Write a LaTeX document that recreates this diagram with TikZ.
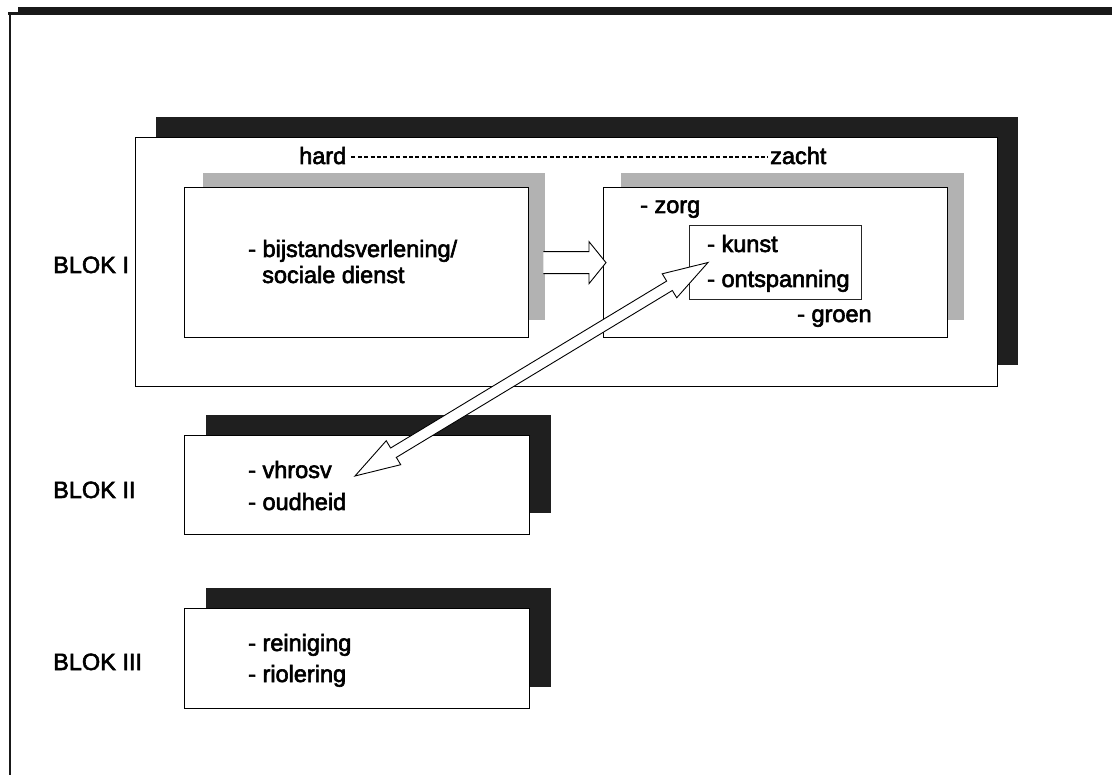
\documentclass[tikz,border=0pt]{standalone}
\usepackage{fontspec}
\setmainfont{Liberation Sans}
\newfontfamily\lblfont{Liberation Sans}[FakeBold=2.6]
\usetikzlibrary{calc}
\begin{document}
\begin{tikzpicture}[x=1pt,y=-1pt,
  shadowblk/.style={fill=black!88,draw=none},
  stipple/.style={fill=black!30,draw=none},
  boxnode/.style={draw=black,line width=1.3pt,fill=white,inner sep=0pt,anchor=north west},
  thinbox/.style={draw=black!85,line width=1pt,fill=white,inner sep=0pt,anchor=north west},
  lbl/.style={anchor=base west,inner sep=0pt,font=\lblfont\fontsize{23.5}{27}\selectfont},
  hollow/.style={draw=black,line width=0.9pt,fill=white,line join=miter},
  dashline/.style={line width=1.3pt,dash pattern=on 4pt off 2.4pt}
]
\useasboundingbox (0,0) rectangle (1112,775);
% frame
\fill[black!90] (18,7) rectangle (1112,15);
\fill[black!90] (8,12) rectangle (18,15);
\draw[black!90,line width=2pt] (10,13) -- (10,775);

% BLOK I
\fill[shadowblk] (156,117) rectangle (1018,365);
\node[boxnode,minimum width=862pt,minimum height=249pt] (b1) at (135,137) {};
\node[lbl] (hard) at (299,164) {hard};
\node[lbl] (zacht) at (770,164) {zacht};
\draw[dashline] ($(hard.base east)+(5,-7)$) -- ($(zacht.base west)+(-2,-7)$);

\fill[stipple] (203,173) rectangle (545,320);
\node[boxnode,minimum width=344pt,minimum height=150pt] (lbox) at (184,187) {};
\fill[stipple] (621,173) rectangle (964,320);
\node[boxnode,minimum width=344pt,minimum height=150pt] (rbox) at (603,187) {};
\node[thinbox,minimum width=172pt,minimum height=74pt] (kbox) at (689,225) {};

\node[lbl] (bijst) at (248,257) {- bijstandsverlening/};
\node[lbl] (soc) at (262,283) {sociale dienst};
\node[lbl] (zorg) at (640,213) {- zorg};
\node[lbl] (kunst) at (707,252) {- kunst};
\node[lbl] (ont) at (707,287) {- ontspanning};
\node[lbl] (groen) at (797,322) {- groen};

\node[lbl] (blok1) at (53,273) {BLOK I};

% BLOK II
\fill[shadowblk] (206,415) rectangle (551,513);
\node[boxnode,minimum width=345pt,minimum height=99pt] (b2) at (184,435) {};
\node[lbl] (vh) at (248,478) {- vhrosv};
\node[lbl] (oud) at (248,510) {- oudheid};
\node[lbl] (blok2) at (53,498) {BLOK II};

% BLOK III
\fill[shadowblk] (206,588) rectangle (551,687);
\node[boxnode,minimum width=345pt,minimum height=100pt] (b3) at (184,608) {};
\node[lbl] (rein) at (248,651) {- reiniging};
\node[lbl] (riol) at (248,682) {- riolering};
\node[lbl] (blok3) at (53,670) {BLOK III};

% block arrow left box -> right box
\coordinate (baS) at ($(lbox.east)+(14,0)$);
\coordinate (baT) at ($(rbox.west |- lbox.east)+(3,0)$);
\fill[white] ($(baS)+(0,-11)$) -- ($(baT)+(-17,-11)$) -- ($(baT)+(-17,-21)$) -- (baT)
  -- ($(baT)+(-17,21)$) -- ($(baT)+(-17,11)$) -- ($(baS)+(0,11)$) -- cycle;
\draw[line width=0.9pt,line join=miter] ($(baS)+(0,-11)$) -- ($(baT)+(-17,-11)$) -- ($(baT)+(-17,-21)$) -- (baT)
  -- ($(baT)+(-17,21)$) -- ($(baT)+(-17,11)$) -- ($(baS)+(0,11)$);

% double hollow arrow kunst box <-> vhrosv
\coordinate (dA) at ($(kbox.west)+(19,0)$);
\coordinate (dB) at ($(vh.base east)+(23,-2)$);
\coordinate (hA) at ($(dA)!45pt!(dB)$);
\coordinate (hB) at ($(dB)!45pt!(dA)$);
\draw[hollow] (dA) -- ($(hA)!14pt!90:(dB)$) -- ($(hA)!5.5pt!90:(dB)$)
  -- ($(hB)!5.5pt!-90:(dA)$) -- ($(hB)!14pt!-90:(dA)$) -- (dB)
  -- ($(hB)!14pt!90:(dA)$) -- ($(hB)!5.5pt!90:(dA)$)
  -- ($(hA)!5.5pt!-90:(dB)$) -- ($(hA)!14pt!-90:(dB)$) -- cycle;
\end{tikzpicture}
\end{document}
